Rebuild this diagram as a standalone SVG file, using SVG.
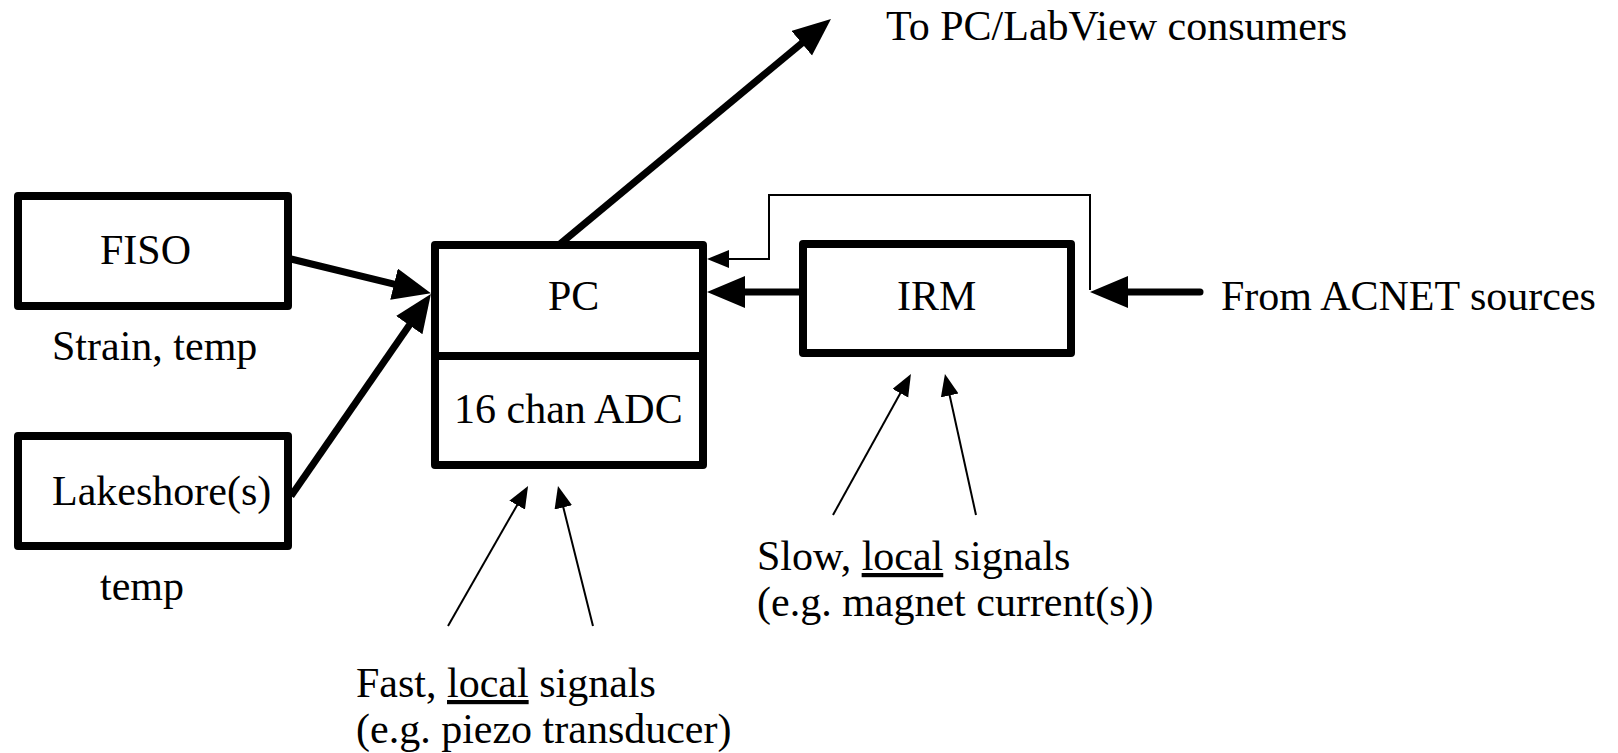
<svg xmlns="http://www.w3.org/2000/svg" width="1618" height="753" viewBox="0 0 1618 753">
<style>
text{font-family:"Liberation Serif","Times New Roman",serif;font-size:42px;fill:#000}
.box{fill:none;stroke:#000;stroke-width:8;stroke-linejoin:round}
.thick{fill:none;stroke:#000;stroke-width:7}
.thin{fill:none;stroke:#000;stroke-width:2}
.u{text-decoration:underline}
</style>
<defs>
<marker id="ah" markerUnits="userSpaceOnUse" markerWidth="40" markerHeight="34" refX="18" refY="16" orient="auto" viewBox="0 0 40 34">
<path d="M0,0 L38,16 L0,32 Z" fill="#000"/>
</marker>
<marker id="ahs" markerUnits="userSpaceOnUse" markerWidth="24" markerHeight="20" refX="12" refY="9" orient="auto" viewBox="0 0 24 20">
<path d="M0,0 L22,9 L0,18 Z" fill="#000"/>
</marker>
</defs>
<rect width="1618" height="753" fill="#fff"/>
<g id="connectors">
<line class="thick" x1="291" y1="259" x2="411.5" y2="288.4" marker-end="url(#ah)"/>
<line class="thick" x1="291" y1="496" x2="419.5" y2="310.4" marker-end="url(#ah)"/>
<line class="thick" x1="560" y1="244" x2="815.6" y2="31.8" marker-end="url(#ah)"/>
<line class="thick" x1="800" y1="292" x2="727" y2="292" marker-end="url(#ah)"/>
<line class="thick" x1="1200" y1="292" x2="1110" y2="292" stroke-linecap="round" marker-end="url(#ah)"/>
<polyline class="thin" points="1090,290 1090,195 769,195 769,259 717,259" marker-end="url(#ahs)"/>
<line class="thin" x1="448" y1="626" x2="523.1" y2="494.7" marker-end="url(#ahs)"/>
<line class="thin" x1="593" y1="626" x2="560.4" y2="495.7" marker-end="url(#ahs)"/>
<line class="thin" x1="833" y1="515" x2="906.1" y2="382.7" marker-end="url(#ahs)"/>
<line class="thin" x1="976" y1="515" x2="947.1" y2="383.7" marker-end="url(#ahs)"/>
</g>
<g id="fiso">
<rect class="box" x="18" y="196" width="270" height="110"/>
<text x="100" y="264">FISO</text>
<text x="52" y="360">Strain, temp</text>
</g>
<g id="lakeshore">
<rect class="box" x="18" y="436" width="270" height="110"/>
<text x="52" y="505">Lakeshore(s)</text>
<text x="100" y="600">temp</text>
</g>
<g id="pc">
<rect class="box" x="435" y="245" width="268" height="220"/>
<line class="box" x1="435" y1="356" x2="703" y2="356"/>
<text x="548" y="310">PC</text>
<text x="454" y="423">16 chan ADC</text>
</g>
<g id="irm">
<rect class="box" x="803" y="244" width="268" height="109"/>
<text x="897" y="310">IRM</text>
</g>
<g id="labels">
<text x="886" y="40">To PC/LabView consumers</text>
<text x="1221" y="310">From ACNET sources</text>
<text x="757" y="570">Slow, <tspan class="u">local</tspan> signals</text>
<text x="757" y="616">(e.g. magnet current(s))</text>
<text x="356" y="697">Fast, <tspan class="u">local</tspan> signals</text>
<text x="356" y="743">(e.g. piezo transducer)</text>
</g>
</svg>
